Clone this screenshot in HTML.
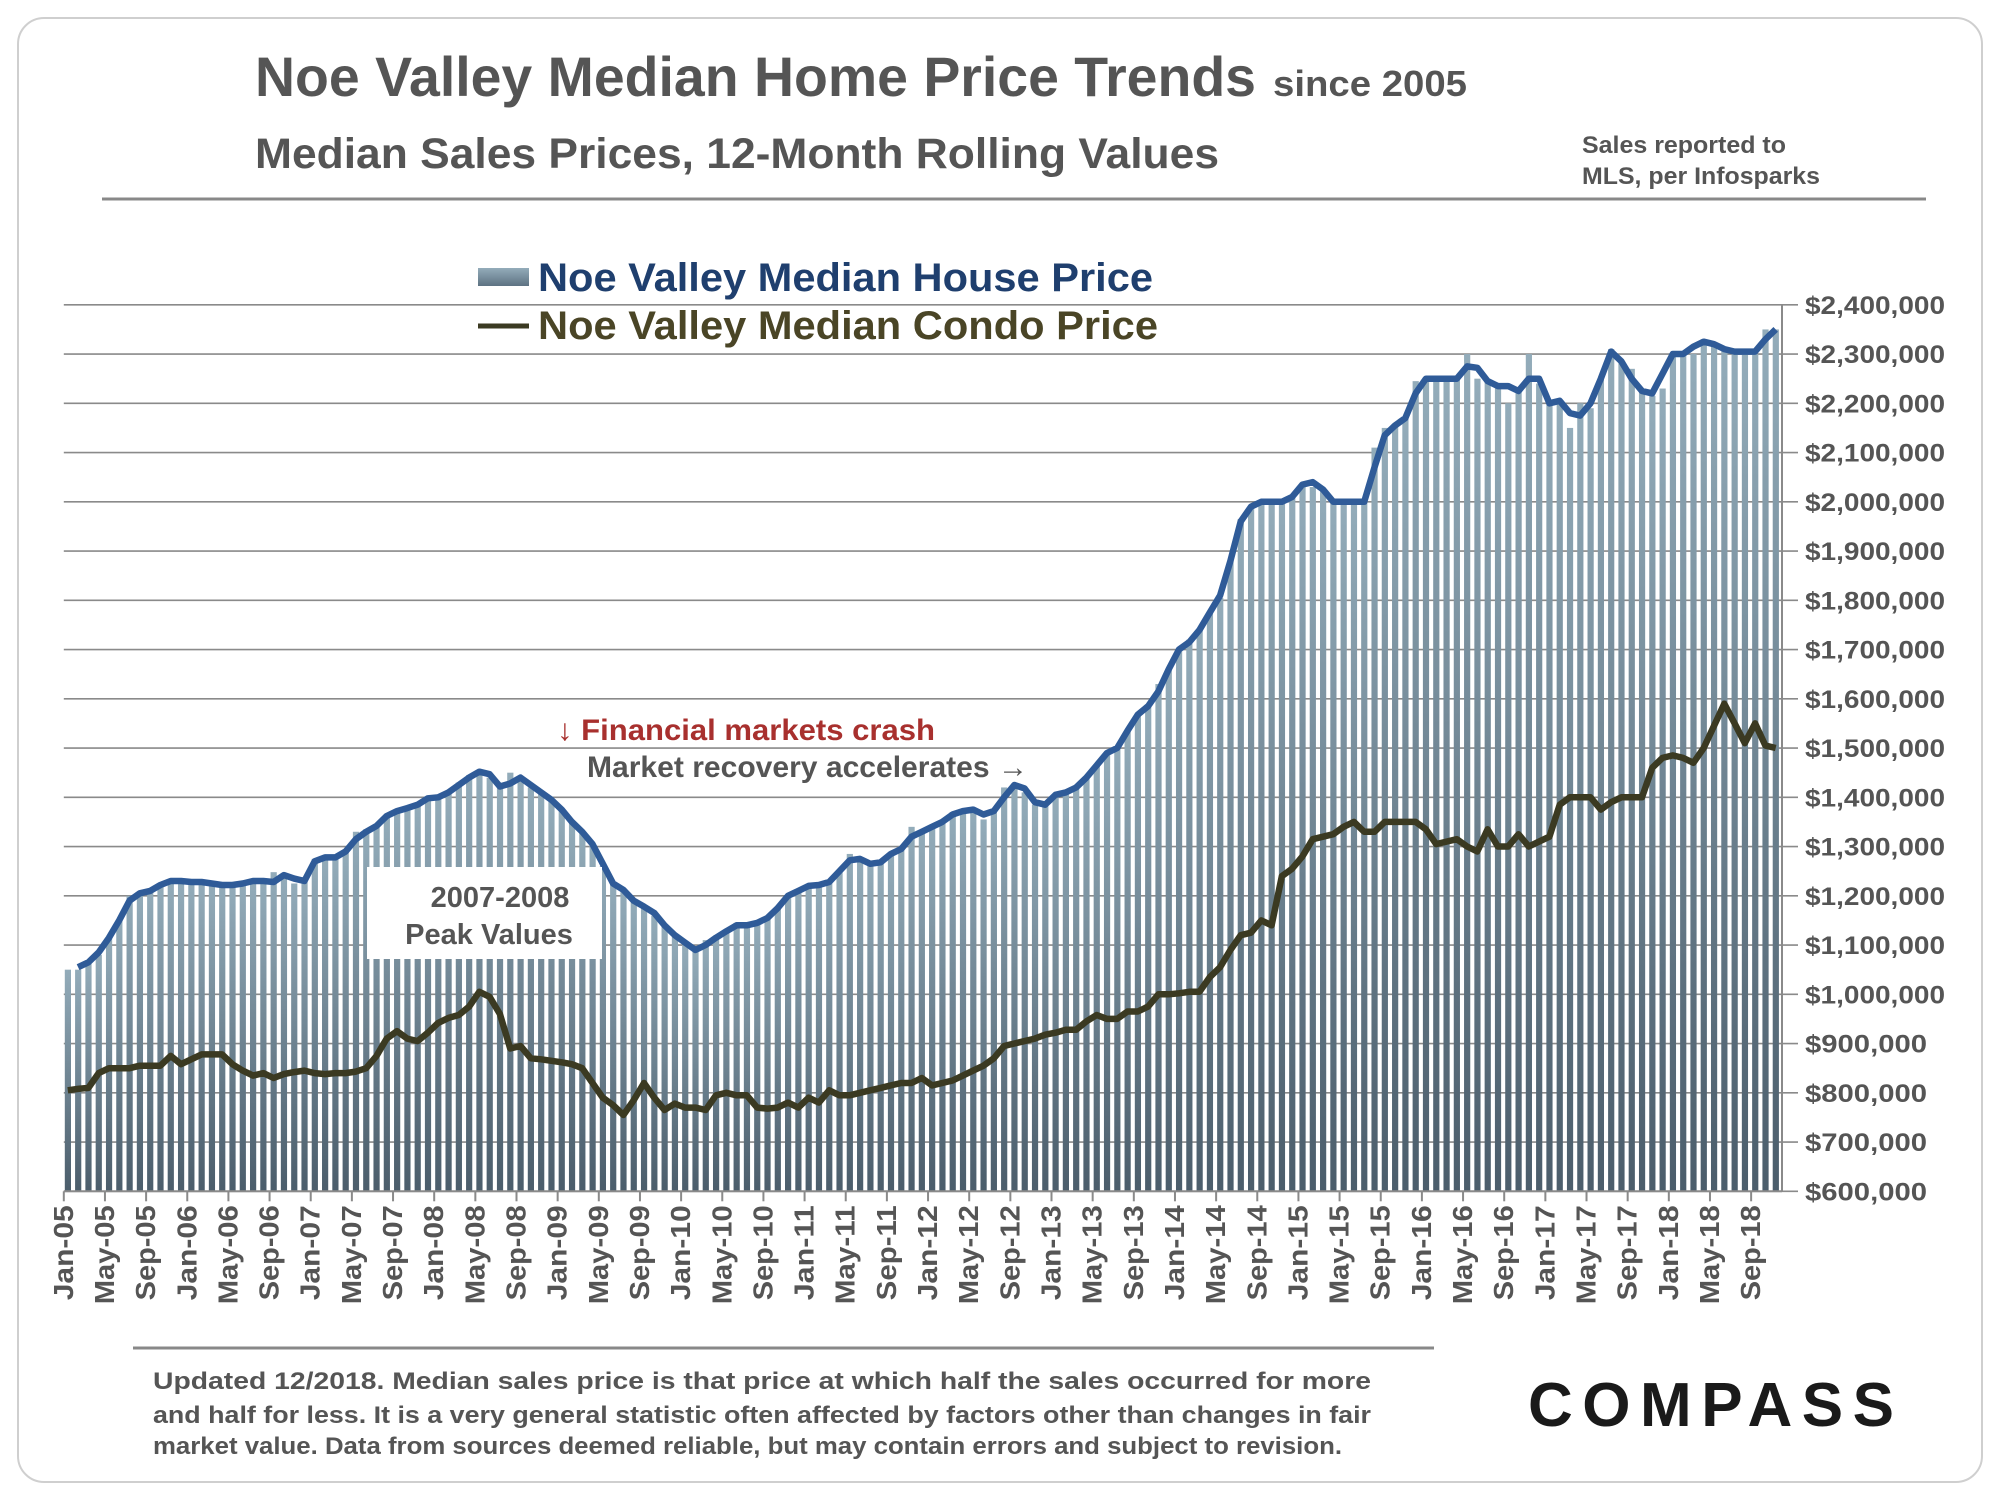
<!DOCTYPE html>
<html><head><meta charset="utf-8"><style>
html,body{margin:0;padding:0;background:#fff;}
svg{display:block;font-family:"Liberation Sans",Arial,sans-serif;}
</style></head><body>
<svg id="chart" width="2000" height="1500" viewBox="0 0 2000 1500" xmlns="http://www.w3.org/2000/svg">
<defs>
<linearGradient id="barGrad" x1="0" y1="0" x2="0" y2="1">
<stop offset="0" stop-color="#93acba"/><stop offset="1" stop-color="#4b5d6b"/>
</linearGradient>
<linearGradient id="legGrad" x1="0" y1="0" x2="0" y2="1">
<stop offset="0" stop-color="#93acba"/><stop offset="1" stop-color="#5d7282"/>
</linearGradient>
</defs>
<rect x="18" y="18" width="1964" height="1464" rx="26" fill="#fff" stroke="#cfcfcf" stroke-width="2"/>
<text x="255" y="96" font-size="56" font-weight="bold" fill="#555" textLength="1001" lengthAdjust="spacingAndGlyphs">Noe Valley Median Home Price Trends</text>
<text x="1273" y="96" font-size="36" font-weight="bold" fill="#555" textLength="194" lengthAdjust="spacingAndGlyphs">since 2005</text>
<text x="255" y="168" font-size="43" font-weight="bold" fill="#555" textLength="964" lengthAdjust="spacingAndGlyphs">Median Sales Prices, 12-Month Rolling Values</text>
<text font-size="24" font-weight="bold" fill="#555"><tspan x="1582" y="153" textLength="204" lengthAdjust="spacingAndGlyphs">Sales reported to</tspan><tspan x="1582" y="184" textLength="238" lengthAdjust="spacingAndGlyphs">MLS, per Infosparks</tspan></text>
<line x1="102" y1="199" x2="1926" y2="199" stroke="#888" stroke-width="3"/>
<g id="plot"></g>
<rect x="478" y="268" width="51" height="18" fill="url(#legGrad)"/>
<text x="538" y="291" font-size="40" font-weight="bold" fill="#1f3f6e" textLength="615" lengthAdjust="spacingAndGlyphs">Noe Valley Median House Price</text>
<line x1="478" y1="326" x2="529" y2="326" stroke="#3b3a22" stroke-width="5"/>
<text x="538" y="339" font-size="40" font-weight="bold" fill="#4a4526" textLength="620" lengthAdjust="spacingAndGlyphs">Noe Valley Median Condo Price</text>
<text x="557" y="740" font-size="30" font-weight="bold" fill="#a8302e" textLength="378" lengthAdjust="spacingAndGlyphs">↓ Financial markets crash</text>
<text x="587" y="777" font-size="30" font-weight="bold" fill="#555" textLength="441" lengthAdjust="spacingAndGlyphs">Market recovery accelerates →</text>
<rect x="367" y="867" width="235" height="92" fill="#fff"/>
<text font-size="29" font-weight="bold" fill="#555" text-anchor="middle"><tspan x="500" y="907">2007-2008</tspan><tspan x="489" y="944">Peak Values</tspan></text>
<line x1="133" y1="1348" x2="1434" y2="1348" stroke="#888" stroke-width="3"/>
<text font-size="24" font-weight="bold" fill="#555">
<tspan x="153" y="1389" textLength="1218" lengthAdjust="spacingAndGlyphs">Updated 12/2018. Median sales price is that price at which half the sales occurred for more</tspan>
<tspan x="153" y="1423" textLength="1218" lengthAdjust="spacingAndGlyphs">and half for less. It is a very general statistic often affected by factors other than changes in fair</tspan>
<tspan x="153" y="1454" textLength="1189" lengthAdjust="spacingAndGlyphs">market value. Data from sources deemed reliable, but may contain errors and subject to revision.</tspan>
</text>
<text x="1528" y="1426" font-size="62" font-weight="bold" fill="#1a1a1a" textLength="366" lengthAdjust="spacing">COMPASS</text>
</svg>
<script>
// Data (thousands of dollars), monthly Jan-05 .. Nov-18
const houseLine = [
1050,1055,1065,1085,1115,1150,1190,1205,1210,1222,1230,1230,
1228,1228,1225,1222,1222,1225,1230,1230,1228,1242,1235,1230,
1270,1278,1278,1290,1315,1330,1342,1362,1372,1378,1385,1398,
1400,1410,1425,1440,1452,1447,1422,1428,1440,1425,1410,1395,
1375,1350,1330,1305,1265,1225,1212,1190,1178,1165,1140,1120,
1105,1090,1100,1115,1128,1140,1140,1145,1155,1175,1200,1210,
1220,1222,1228,1250,1272,1275,1265,1268,1285,1295,1320,1330,
1340,1350,1365,1372,1375,1365,1372,1400,1425,1418,1390,1385,
1405,1410,1420,1440,1465,1490,1500,1535,1568,1585,1615,1660,
1700,1715,1740,1775,1810,1880,1960,1990,2000,2000,2000,2010,
2035,2040,2025,2000,2000,2000,2000,2070,2135,2155,2170,2220,
2250,2250,2250,2250,2275,2272,2245,2235,2235,2225,2250,2250,
2200,2205,2180,2175,2200,2250,2305,2285,2250,2225,2220,2260,
2300,2300,2315,2325,2320,2310,2305,2305,2305,2330,2350];
const houseBars = [
1050,1050,1065,1080,1115,1150,1200,1205,1210,1222,1230,1225,
1228,1225,1222,1222,1220,1225,1230,1228,1248,1240,1225,1232,
1275,1278,1278,1290,1330,1335,1345,1362,1372,1378,1385,1398,
1400,1410,1430,1445,1452,1440,1418,1450,1440,1420,1410,1395,
1375,1350,1330,1305,1260,1225,1212,1190,1178,1160,1140,1120,
1100,1090,1110,1115,1125,1145,1140,1145,1155,1175,1200,1210,
1220,1222,1228,1250,1285,1275,1265,1268,1285,1300,1340,1330,
1340,1350,1370,1372,1375,1355,1372,1420,1425,1410,1385,1390,
1400,1410,1420,1440,1465,1490,1500,1535,1570,1585,1630,1660,
1700,1720,1740,1775,1805,1880,1965,1990,2000,2000,2000,2010,
2035,2030,2025,2000,2000,2000,2000,2110,2150,2155,2170,2245,
2250,2250,2250,2250,2300,2250,2245,2235,2200,2225,2300,2240,
2200,2205,2150,2200,2190,2250,2310,2285,2270,2225,2215,2230,
2295,2300,2300,2330,2320,2310,2300,2300,2300,2350,2350];
const condoLine = [
805,808,810,840,850,850,850,855,855,855,875,858,
868,878,878,878,858,845,835,840,830,838,842,845,
840,838,840,840,843,850,875,910,925,910,905,922,
942,952,958,975,1005,995,960,890,895,870,868,865,
862,858,850,820,790,775,755,785,820,790,765,778,
770,770,765,795,800,795,795,770,768,770,780,770,
790,780,805,795,795,800,805,810,815,820,820,830,
815,820,825,835,845,855,870,895,900,905,910,918,
922,928,928,945,958,950,950,965,965,975,1000,1000,
1002,1005,1005,1035,1055,1090,1120,1125,1150,1140,1240,1255,
1280,1315,1320,1325,1340,1350,1330,1330,1350,1350,1350,1350,
1335,1305,1310,1315,1300,1290,1335,1300,1300,1325,1300,1310,
1320,1385,1400,1400,1400,1375,1390,1400,1400,1400,1460,1480,
1485,1480,1470,1500,1545,1590,1550,1510,1550,1505,1500];
const yTicks = [600,700,800,900,1000,1100,1200,1300,1400,1500,1600,1700,1800,1900,2000,2100,2200,2300,2400];
const monthNames = ["Jan","Feb","Mar","Apr","May","Jun","Jul","Aug","Sep","Oct","Nov","Dec"];

const NS = "http://www.w3.org/2000/svg";
const plot = document.getElementById('plot');
const X0 = 63.8, XR = 1782, YT = 304.8, YB = 1191.3;
const N = houseLine.length;
const band = (XR - X0) / N;
const yMin = 600, yMax = 2400;
function yScale(v){ return YB - (v - yMin) / (yMax - yMin) * (YB - YT); }
function xBand(i){ return X0 + i * band; }
function xCenter(i){ return X0 + i * band + 4; }
function mk(tag, attrs){ const e = document.createElementNS(NS, tag); for (const k in attrs) e.setAttribute(k, attrs[k]); plot.appendChild(e); return e; }
function fmt(v){ return '$' + (v*1000).toLocaleString('en-US'); }

yTicks.forEach(function(t){
  const g = mk('line', {x1: X0, x2: XR + 16, y1: yScale(t), y2: yScale(t), stroke: '#8a8a8a', 'stroke-width': 1.6});
  
  
  const l = mk('text', {x: 1805, y: yScale(t) + 9, 'font-size': 25, 'font-weight': 'bold', fill: '#555', textLength: t >= 1000 ? 140 : 122, lengthAdjust: 'spacingAndGlyphs'});
  l.textContent = fmt(t);
  
  
});

houseBars.forEach(function(v, i){
  const r = mk('rect', {x: xBand(i) + 1, y: yScale(v), width: 6.2, height: YB - yScale(v), fill: 'url(#barGrad)'});
  
  
});

const ax = mk('line', {x1: XR, x2: XR, y1: YT, y2: YB, stroke: '#8a8a8a', 'stroke-width': 2});


const bx = mk('line', {x1: X0, x2: XR, y1: YB, y2: YB, stroke: '#8a8a8a', 'stroke-width': 2});



for (let i = 0; i < N; i += 4) {
  const tk = mk('line', {x1: xBand(i), x2: xBand(i), y1: YB, y2: YB + 10, stroke: '#8a8a8a', 'stroke-width': 2});
  
  
  const yr = String(5 + Math.floor(i / 12)).padStart(2, '0');
  const lbl = monthNames[i % 12] + '-' + yr;
  const cx = xBand(i) + 9, cy = YB + 14;
  const t = mk('text', {x: cx, y: cy, 'font-size': 28, 'font-weight': 'bold', fill: '#555', 'text-anchor': 'end', transform: 'rotate(-90 ' + cx + ' ' + cy + ')', textLength: lbl.startsWith('May') ? 99 : 95, lengthAdjust: 'spacingAndGlyphs'});
  t.textContent = lbl;
  
  
}

function path(arr, start){ let d = ''; for (let i = start; i < arr.length; i++) d += (i === start ? 'M' : 'L') + xCenter(i).toFixed(1) + ',' + yScale(arr[i]).toFixed(1); return d; }
const cl = mk('path', {d: path(condoLine, 0), fill: 'none', stroke: '#3b3a22', 'stroke-width': 6.5, 'stroke-linejoin': 'round'});


const hl = mk('path', {d: path(houseLine, 1), fill: 'none', stroke: '#2f5b98', 'stroke-width': 6.5, 'stroke-linejoin': 'round'});


</script>
</body></html>
